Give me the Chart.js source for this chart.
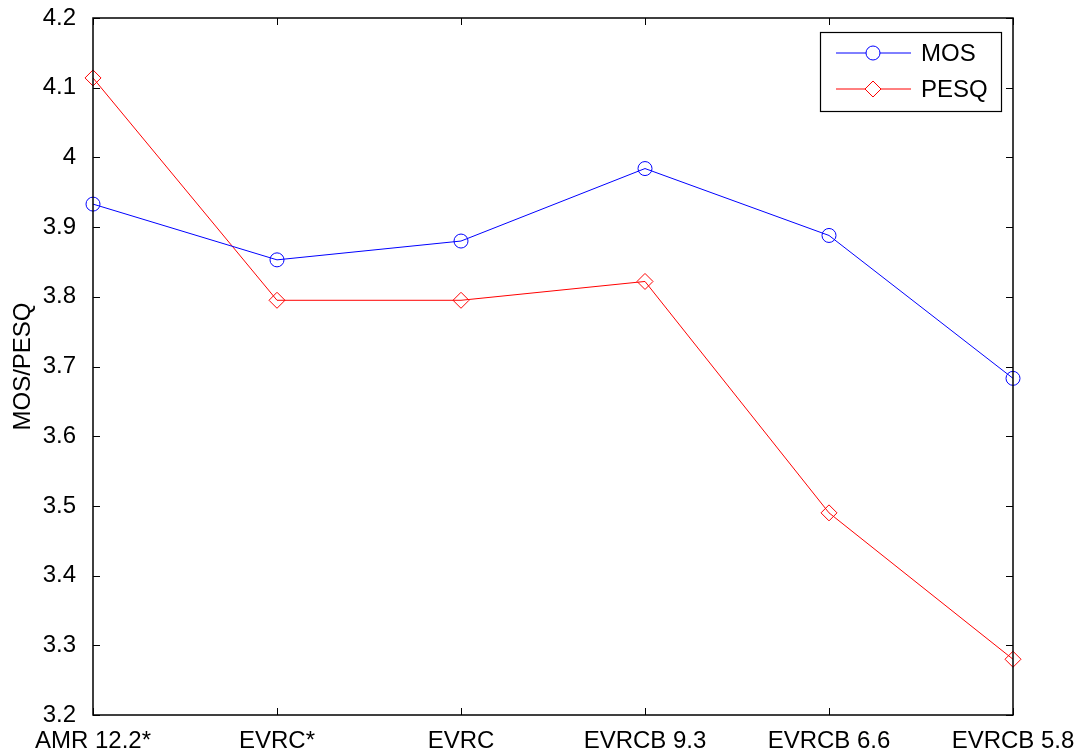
<!DOCTYPE html>
<html>
<head>
  <meta charset="UTF-8">
  <title>MOS / PESQ</title>
  <style>
    body { margin: 0; background: #fff; }
    #wrap { width: 1088px; height: 755px; }
  </style>
  <script src="https://cdn.jsdelivr.net/npm/chart.js"></script>
</head>
<body>
  <div id="wrap"><canvas id="c" width="1088" height="755"></canvas></div>
  <script>
    const codecs = ['AMR 12.2*', 'EVRC*', 'EVRC', 'EVRCB 9.3', 'EVRCB 6.6', 'EVRCB 5.8'];
    const mos = [3.933, 3.853, 3.880, 3.984, 3.888, 3.683];
    const pesq = [4.114, 3.795, 3.795, 3.822, 3.490, 3.280];
    const yTicks = [3.2, 3.3, 3.4, 3.5, 3.6, 3.7, 3.8, 3.9, 4, 4.1, 4.2];

    const FONT = 'Liberation Sans, Arial, sans-serif';
    const FSIZE = 24;

    // matlab style box, inner ticks and legend
    const matlabBox = {
      id: 'matlabBox',
      afterDraw(chart) {
        const ctx = chart.ctx;
        const a = chart.chartArea;
        const xs = chart.scales.x, ys = chart.scales.y;
        ctx.save();
        ctx.strokeStyle = '#000';
        ctx.lineWidth = 1;
        const t = 7;
        ys.ticks.forEach((tk, i) => {
          const y = Math.round(ys.getPixelForTick(i)) + 0.5;
          ctx.beginPath();
          ctx.moveTo(a.left, y); ctx.lineTo(a.left + t, y);
          ctx.moveTo(a.right, y); ctx.lineTo(a.right - t, y);
          ctx.stroke();
        });
        xs.ticks.forEach((tk, i) => {
          const x = Math.round(xs.getPixelForTick(i)) + 0.5;
          ctx.beginPath();
          ctx.moveTo(x, a.bottom); ctx.lineTo(x, a.bottom - t);
          ctx.moveTo(x, a.top); ctx.lineTo(x, a.top + t);
          ctx.stroke();
        });
        ctx.lineWidth = 1.5;
        ctx.strokeRect(a.left, a.top, a.right - a.left, a.bottom - a.top);

        // legend
        const lx = 820, ly = 32, lw = 181, lh = 79;
        ctx.fillStyle = '#fff';
        ctx.fillRect(lx, ly, lw, lh);
        ctx.strokeStyle = '#000';
        ctx.lineWidth = 1.2;
        ctx.strokeRect(lx + 0.5, ly + 0.5, lw, lh);
        chart.data.datasets.forEach((ds, i) => {
          const y = ly + 21 + i * 36;
          ctx.strokeStyle = ds.borderColor;
          ctx.lineWidth = 1;
          ctx.beginPath();
          ctx.moveTo(lx + 16, y); ctx.lineTo(lx + 91, y);
          ctx.stroke();
          ctx.fillStyle = '#fff';
          Chart.helpers.drawPoint(ctx, {
            pointStyle: ds.pointStyle, radius: ds.pointRadius, borderWidth: 1
          }, lx + 53, y);
          ctx.fillStyle = '#000';
          ctx.font = FSIZE + 'px ' + FONT;
          ctx.textBaseline = 'middle';
          ctx.fillText(ds.label, lx + 101, y + 1);
        });
        ctx.restore();
      }
    };

    new Chart(document.getElementById('c'), {
      type: 'line',
      data: {
        labels: codecs,
        datasets: [
          { label: 'MOS', data: mos, borderColor: '#0000ff', backgroundColor: 'rgba(0,0,0,0)',
            borderWidth: 1, pointStyle: 'circle', pointRadius: 7, pointBorderWidth: 1, tension: 0 },
          { label: 'PESQ', data: pesq, borderColor: '#ff0000', backgroundColor: 'rgba(0,0,0,0)',
            borderWidth: 1, pointStyle: 'rectRot', pointRadius: 8, pointBorderWidth: 1, tension: 0 }
        ]
      },
      options: {
        responsive: false,
        animation: false,
        clip: false,
        layout: { padding: { left: 0, right: 75, top: 18, bottom: 0 } },
        plugins: { legend: { display: false }, tooltip: { enabled: false } },
        scales: {
          x: {
            offset: false,
            grid: { display: false },
            border: { display: false },
            ticks: { color: '#000', font: { family: FONT, size: FSIZE }, padding: 4, maxRotation: 0, autoSkip: false },
            afterFit(s) { s.height = 40; s.paddingLeft = 0; s.paddingRight = 0; }
          },
          y: {
            min: 3.2, max: 4.2,
            grid: { display: false },
            border: { display: false },
            afterBuildTicks(s) { s.ticks = yTicks.map(v => ({ value: v })); },
            ticks: { color: '#000', font: { family: FONT, size: FSIZE }, padding: 9,
              callback: v => String(Math.round(v * 10) / 10) },
            title: { display: true, text: 'MOS/PESQ', color: '#000', font: { family: FONT, size: FSIZE }, padding: { top: 9, bottom: 0 } },
            afterFit(s) { s.width = 93; s.paddingTop = 0; s.paddingBottom = 0; }
          }
        }
      },
      plugins: [matlabBox]
    });
  </script>
</body>
</html>
